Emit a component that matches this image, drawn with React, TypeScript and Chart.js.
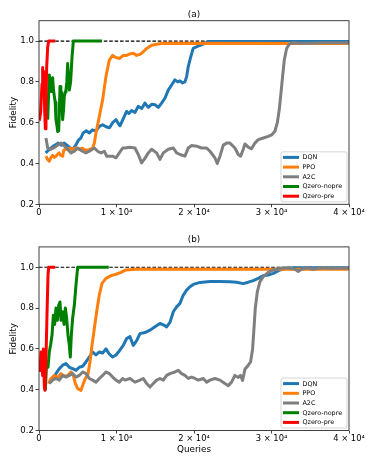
import React, { useEffect, useRef } from 'react';
import { Chart, registerables } from 'chart.js';

Chart.register(...registerables);

type Pt = [number, number];

// ---------- axes / labels ----------
const X_TICKS = [0, 10000, 20000, 30000, 40000];
const X_TICK_LABELS = ['0', '1 × 10⁴', '2 × 10⁴', '3 × 10⁴', '4 × 10⁴'];
const Y_TICKS = [0.2, 0.4, 0.6, 0.8, 1.0];
const X_RANGE = [0, 40000];
const Y_RANGE = [0.2, 1.1];
const SERIES_NAMES = ['DQN', 'PPO', 'A2C', 'Qzero-nopre', 'Qzero-pre'];
const SERIES_COLORS = ['#1f77b4', '#ff7f0e', '#7f7f7f', '#008000', '#ff0000'];
const TARGET: Pt[] = [[0, 1.0], [40000, 1.0]];
const PANEL_TITLES = ['(a)', '(b)'];
const X_LABEL = 'Queries';
const Y_LABEL = 'Fidelity';

// ---------- panel (a) ----------
const dqnA: Pt[] = [
  [860, 0.452], [1350, 0.47], [1850, 0.485], [2200, 0.493], [2500, 0.5], [2850, 0.49], [3250, 0.5],
  [3600, 0.49], [3900, 0.48], [4350, 0.468], [4750, 0.49], [5100, 0.515], [5400, 0.525], [5700, 0.55],
  [6100, 0.56], [6500, 0.55], [6900, 0.565], [7350, 0.56], [7800, 0.582], [8200, 0.59], [8650, 0.58],
  [9100, 0.575], [9500, 0.6], [9950, 0.615], [10250, 0.595], [10450, 0.585], [10880, 0.62], [11300, 0.655],
  [11600, 0.645], [11950, 0.66], [12380, 0.65], [12800, 0.68], [13250, 0.67], [13670, 0.696], [14100, 0.675],
  [14530, 0.69], [14960, 0.688], [15400, 0.675], [15820, 0.696], [16250, 0.72], [16680, 0.76], [17110, 0.785],
  [17540, 0.81], [17900, 0.8], [18190, 0.805], [18500, 0.795], [18830, 0.8], [19050, 0.826], [19260, 0.875],
  [19560, 0.92], [19900, 0.964], [20550, 0.976], [21200, 0.985], [21850, 0.998], [30000, 0.998], [40000, 0.998],
];
const ppoA: Pt[] = [
  [900, 0.436], [1100, 0.42], [1330, 0.411], [1550, 0.43], [1760, 0.44], [2000, 0.43], [2190, 0.436],
  [2400, 0.445], [2580, 0.452], [2800, 0.44], [3050, 0.436], [3200, 0.465], [3500, 0.47], [3900, 0.475],
  [4300, 0.47], [4770, 0.476], [5200, 0.47], [5600, 0.475], [6000, 0.465], [6500, 0.468], [6920, 0.476],
  [7140, 0.5], [7350, 0.55], [7780, 0.63], [8210, 0.712], [8640, 0.826], [9070, 0.907], [9500, 0.93],
  [9900, 0.92], [10400, 0.915], [10880, 0.93], [11300, 0.93], [11740, 0.937], [12170, 0.94], [12600, 0.93],
  [13030, 0.935], [13460, 0.948], [13890, 0.964], [14530, 0.98], [15180, 0.985], [16040, 0.989], [40000, 0.988],
];
const a2cA: Pt[] = [
  [900, 0.525], [1120, 0.476], [1550, 0.47], [1980, 0.478], [2410, 0.49], [2840, 0.5], [3270, 0.485],
  [3700, 0.47], [4130, 0.452], [4560, 0.46], [4990, 0.476], [5600, 0.46], [6060, 0.452], [6490, 0.46],
  [7140, 0.476], [7570, 0.46], [8000, 0.452], [8430, 0.46], [8730, 0.436], [9500, 0.436], [9930, 0.428],
  [10360, 0.452], [10800, 0.476], [11100, 0.476], [11740, 0.48], [12380, 0.476], [12810, 0.444], [13240, 0.403],
  [13670, 0.425], [14100, 0.452], [14530, 0.47], [15180, 0.452], [15610, 0.42], [16040, 0.452], [16680, 0.47],
  [17330, 0.476], [17760, 0.452], [18190, 0.444], [18830, 0.436], [19260, 0.476], [19700, 0.488], [20340, 0.485],
  [20980, 0.476], [21630, 0.476], [22060, 0.46], [22700, 0.428], [23000, 0.4], [23350, 0.436], [23780, 0.49],
  [24210, 0.5], [24640, 0.5], [25280, 0.476], [25710, 0.444], [26020, 0.436], [26360, 0.47], [26570, 0.496],
  [27000, 0.48], [27430, 0.472], [27860, 0.5], [28290, 0.517], [28940, 0.525], [29580, 0.533], [30010, 0.54],
  [30440, 0.558], [30750, 0.6], [31000, 0.663], [31220, 0.745], [31430, 0.826], [31650, 0.907], [31950, 0.964],
  [32290, 0.985], [32810, 0.992], [33670, 0.99], [34960, 0.99], [36680, 0.992], [40000, 0.992],
];
const nopreA: Pt[] = [
  [1120, 0.615], [1250, 0.75], [1330, 0.834], [1440, 0.8], [1550, 0.753], [1660, 0.8], [1760, 0.82],
  [1870, 0.76], [1980, 0.73], [2090, 0.7], [2190, 0.615], [2300, 0.59], [2410, 0.557], [2540, 0.56],
  [2620, 0.65], [2710, 0.777], [2820, 0.73], [2920, 0.75], [3050, 0.615], [3160, 0.66], [3270, 0.73],
  [3380, 0.75], [3480, 0.76], [3590, 0.8], [3700, 0.89], [3800, 0.82], [3910, 0.76], [4080, 0.8],
  [4260, 0.92], [4430, 1.0], [8130, 1.0],
];
const preA: Pt[] = [
  [40, 0.61], [210, 0.65], [390, 0.79], [470, 0.87], [560, 0.76], [640, 0.85], [730, 0.66], [820, 0.57],
  [900, 0.71], [990, 0.87], [1120, 0.97], [1250, 1.0], [2100, 1.0],
];

// ---------- panel (b) ----------
const dqnB: Pt[] = [
  [1330, 0.437], [1760, 0.45], [2190, 0.479], [2620, 0.503], [3050, 0.52], [3480, 0.528], [3910, 0.51],
  [4340, 0.503], [4770, 0.495], [5200, 0.51], [5630, 0.515], [6060, 0.536], [6490, 0.56], [6920, 0.585],
  [7350, 0.57], [7780, 0.585], [8210, 0.58], [8640, 0.6], [9070, 0.575], [9500, 0.56], [9930, 0.57],
  [10360, 0.59], [10880, 0.617], [11310, 0.651], [11740, 0.66], [12170, 0.617], [12600, 0.64], [13030, 0.675],
  [13670, 0.68], [14320, 0.692], [14960, 0.708], [15610, 0.725], [16040, 0.718], [16470, 0.708], [16900, 0.73],
  [17330, 0.782], [17760, 0.806], [18190, 0.823], [18620, 0.864], [19050, 0.888], [19480, 0.905], [19910, 0.916],
  [20770, 0.926], [22060, 0.93], [23350, 0.93], [24640, 0.929], [25500, 0.927], [26360, 0.92], [27000, 0.927],
  [27650, 0.935], [28290, 0.946], [28940, 0.959], [29580, 0.962], [30230, 0.97], [31090, 0.987], [31950, 0.995],
  [33000, 0.998], [40000, 0.998],
];
const ppoB: Pt[] = [
  [1250, 0.43], [1550, 0.455], [1980, 0.47], [2410, 0.46], [2840, 0.479], [3270, 0.465], [3700, 0.47],
  [4130, 0.487], [4430, 0.47], [4690, 0.43], [4990, 0.405], [5420, 0.397], [5720, 0.43], [5980, 0.455],
  [6280, 0.47], [6580, 0.536], [6840, 0.618], [7140, 0.7], [7440, 0.782], [7780, 0.864], [8130, 0.921],
  [8640, 0.946], [9290, 0.959], [9930, 0.966], [10580, 0.975], [11220, 0.987], [12500, 0.99], [40000, 0.99],
];
const a2cB: Pt[] = [
  [1330, 0.43], [1760, 0.447], [2190, 0.455], [2620, 0.447], [3050, 0.47], [3480, 0.462], [3910, 0.47],
  [4340, 0.479], [4770, 0.462], [5200, 0.47], [5630, 0.487], [6060, 0.479], [6490, 0.455], [6920, 0.447],
  [7350, 0.437], [7780, 0.455], [8210, 0.47], [8640, 0.487], [9070, 0.479], [9500, 0.462], [9930, 0.447],
  [10360, 0.437], [10790, 0.455], [11090, 0.447], [11740, 0.455], [12380, 0.437], [13030, 0.447], [13460, 0.455],
  [13890, 0.43], [14320, 0.413], [14750, 0.43], [15180, 0.447], [15610, 0.455], [16040, 0.447], [16470, 0.47],
  [16900, 0.479], [17540, 0.487], [17970, 0.495], [18400, 0.479], [18830, 0.47], [19260, 0.455], [19690, 0.462],
  [20120, 0.455], [20550, 0.447], [21200, 0.455], [21630, 0.437], [22060, 0.447], [22700, 0.455], [23350, 0.447],
  [23990, 0.43], [24420, 0.42], [24850, 0.437], [25280, 0.47], [25710, 0.46], [26000, 0.47], [26270, 0.445],
  [26570, 0.5], [27000, 0.52], [27300, 0.536], [27560, 0.6], [27740, 0.7], [27910, 0.8], [28170, 0.88],
  [28510, 0.93], [28940, 0.954], [29580, 0.975], [30230, 0.987], [31090, 0.995], [32160, 0.998], [33020, 0.99],
  [33450, 0.98], [33880, 0.99], [34530, 0.998], [35390, 0.99], [36250, 0.998], [37540, 0.995], [40000, 0.997],
];
const nopreB: Pt[] = [
  [820, 0.397], [990, 0.536], [1160, 0.51], [1330, 0.585], [1500, 0.62], [1680, 0.667], [1850, 0.765],
  [2020, 0.72], [2190, 0.8], [2370, 0.74], [2540, 0.815], [2710, 0.83], [2840, 0.74], [3050, 0.782],
  [3230, 0.72], [3400, 0.8], [3570, 0.75], [3740, 0.667], [3910, 0.62], [4040, 0.56], [4170, 0.667],
  [4340, 0.75], [4560, 0.815], [4770, 0.913], [4990, 1.0], [9000, 1.0],
];
const preB: Pt[] = [
  [130, 0.487], [260, 0.585], [390, 0.52], [470, 0.47], [560, 0.6], [690, 0.413], [770, 0.397],
  [900, 0.55], [1030, 0.765], [1160, 0.96], [1250, 1.0], [2100, 1.0],
];

const SERIES_A = [dqnA, ppoA, a2cA, nopreA, preA];
const SERIES_B = [dqnB, ppoB, a2cB, nopreB, preB];

const FONT = '"DejaVu Sans", "Liberation Sans", sans-serif';

interface PanelProps {
  title: string;
  series: Pt[][];
  canvasTop: number;
  canvasH: number;
  padTop: number;
  xAxisH: number;
  titleY: number;
  xLabel?: string;
  xLabelY?: number;
}

function Panel({ title, series, canvasTop, canvasH, padTop, xAxisH, titleY, xLabel, xLabelY }: PanelProps) {
  const ref = useRef<HTMLCanvasElement>(null);

  useEffect(() => {
    if (!ref.current) return;
    const toXY = (p: Pt[]) => p.map(([x, y]) => ({ x, y }));
    const datasets: any[] = [
      {
        label: 'target',
        data: toXY(TARGET),
        borderColor: '#000000',
        borderWidth: 1.1,
        borderDash: [3.6, 1.8],
        order: 10,
      },
      ...series.map((s, i) => ({
        label: SERIES_NAMES[i],
        data: toXY(s),
        borderColor: SERIES_COLORS[i],
        borderWidth: 3,
        borderJoinStyle: 'round',
        order: 5 - i,
      })),
    ];

    const decor = {
      id: 'decor',
      afterDraw(chart: any) {
        const { ctx, chartArea: a } = chart;
        ctx.save();
        // frame
        ctx.strokeStyle = '#2a2a2a';
        ctx.lineWidth = 0.9;
        ctx.strokeRect(a.left, a.top, a.right - a.left, a.bottom - a.top);
        // title
        ctx.fillStyle = '#000';
        ctx.font = `8.8px ${FONT}`;
        ctx.textAlign = 'center';
        ctx.textBaseline = 'middle';
        ctx.fillText(title, (a.left + a.right) / 2, titleY);
        // x label
        if (xLabel) ctx.fillText(xLabel, (a.left + a.right) / 2, xLabelY);
        // y label
        ctx.save();
        ctx.translate(13.3, (a.top + a.bottom) / 2);
        ctx.rotate(-Math.PI / 2);
        ctx.fillText(Y_LABEL, 0, 0);
        ctx.restore();
        // legend
        const lw = 66, lh = 50;
        const lx = a.right - 2 - lw;
        const ly = a.bottom - 2.5 - lh;
        ctx.fillStyle = 'rgba(255,255,255,0.85)';
        ctx.strokeStyle = '#cccccc';
        ctx.lineWidth = 0.8;
        ctx.beginPath();
        (ctx as any).roundRect ? (ctx as any).roundRect(lx, ly, lw, lh, 2) : ctx.rect(lx, ly, lw, lh);
        ctx.fill();
        ctx.stroke();
        ctx.font = `6.4px ${FONT}`;
        ctx.textAlign = 'left';
        ctx.textBaseline = 'middle';
        SERIES_NAMES.forEach((name, i) => {
          const cy = ly + 5.6 + i * 9.7;
          ctx.strokeStyle = SERIES_COLORS[i];
          ctx.lineWidth = 3;
          ctx.beginPath();
          ctx.moveTo(lx + 2, cy);
          ctx.lineTo(lx + 18, cy);
          ctx.stroke();
          ctx.fillStyle = '#000';
          ctx.fillText(name, lx + 21.5, cy + 0.3);
        });
        ctx.restore();
      },
    };

    const chart = new Chart(ref.current, {
      type: 'line',
      data: { datasets },
      plugins: [decor],
      options: {
        animation: false,
        responsive: false,
        devicePixelRatio: 1,
        events: [],
        layout: { padding: { left: 0, right: 25, top: padTop, bottom: 0 } },
        elements: { point: { radius: 0 }, line: { tension: 0 } },
        plugins: { legend: { display: false }, tooltip: { enabled: false }, title: { display: false } },
        scales: {
          x: {
            type: 'linear',
            min: X_RANGE[0],
            max: X_RANGE[1],
            offset: false,
            afterBuildTicks: (s: any) => { s.ticks = X_TICKS.map((v) => ({ value: v })); },
            afterFit: (s: any) => { s.height = xAxisH; s.paddingLeft = 0; s.paddingRight = 0; },
            ticks: {
              autoSkip: false,
              maxRotation: 0,
              padding: 0,
              color: '#000',
              font: { family: FONT, size: 8.4 },
              callback: (v: any) => {
                const i = X_TICKS.indexOf(Number(v));
                return i >= 0 ? X_TICK_LABELS[i] : '';
              },
            },
            grid: { display: true, drawOnChartArea: false, drawTicks: true, tickLength: 3, color: '#333', lineWidth: 0.9 },
            border: { display: false },
          },
          y: {
            type: 'linear',
            min: Y_RANGE[0],
            max: Y_RANGE[1],
            afterBuildTicks: (s: any) => { s.ticks = Y_TICKS.map((v) => ({ value: v })); },
            afterFit: (s: any) => { s.width = 39; s.paddingTop = 0; s.paddingBottom = 0; },
            ticks: {
              padding: 1.5,
              color: '#000',
              font: { family: FONT, size: 8.6 },
              callback: (v: any) => Number(v).toFixed(1),
            },
            grid: { display: true, drawOnChartArea: false, drawTicks: true, tickLength: 3.5, color: '#333', lineWidth: 0.9 },
            border: { display: false },
          },
        },
      } as any,
    });
    return () => chart.destroy();
  }, []);

  return (
    <canvas
      ref={ref}
      width={374}
      height={canvasH}
      style={{ position: 'absolute', left: 0, top: canvasTop, width: 374, height: canvasH, display: 'block' }}
    />
  );
}

export default function App() {
  return (
    <div style={{ position: 'absolute', left: 0, top: 0, width: 374, height: 467, background: '#fff' }}>
      <Panel title={PANEL_TITLES[0]} series={SERIES_A} canvasTop={0} canvasH={222} padTop={20.7} xAxisH={17.7} titleY={15} />
      <Panel
        title={PANEL_TITLES[1]}
        series={SERIES_B}
        canvasTop={222}
        canvasH={245}
        padTop={24.9}
        xAxisH={36.5}
        titleY={18}
        xLabel={X_LABEL}
        xLabelY={228}
      />
    </div>
  );
}
